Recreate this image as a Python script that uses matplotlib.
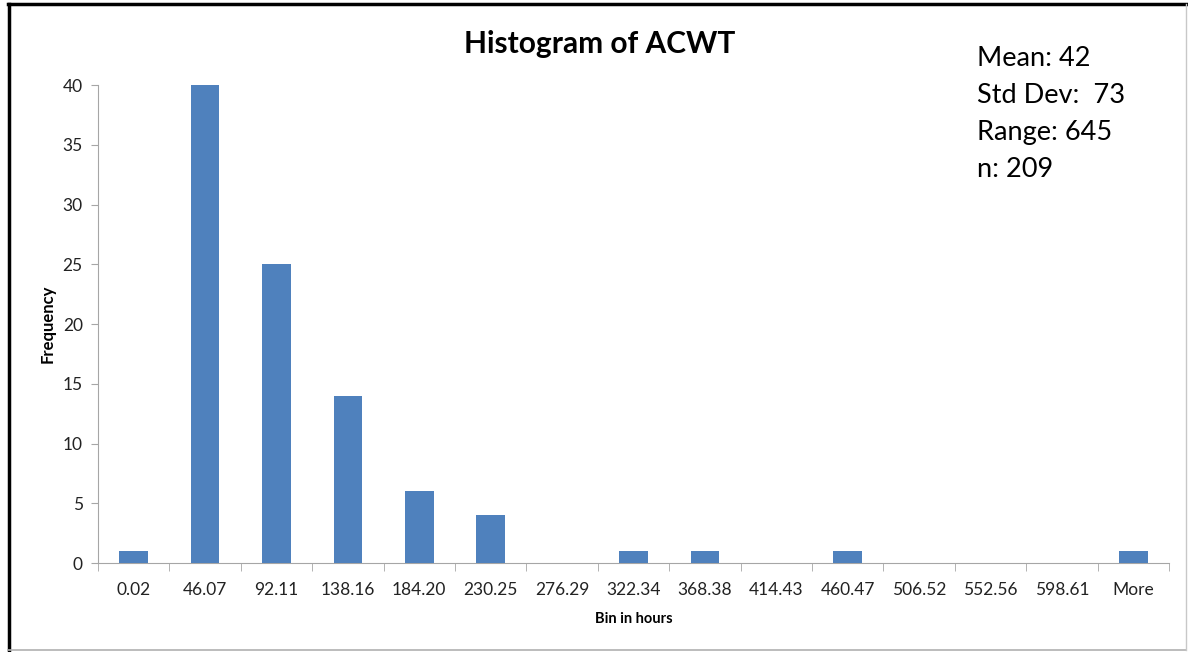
import numpy as np
import matplotlib
matplotlib.use("Agg")
import matplotlib.pyplot as plt
from matplotlib.lines import Line2D

plt.rcParams['font.family'] = ['Lato', 'DejaVu Sans']

bins = ['0.02', '46.07', '92.11', '138.16', '184.20', '230.25', '276.29',
        '322.34', '368.38', '414.43', '460.47', '506.52', '552.56', '598.61', 'More']
freq = [1, 40, 25, 14, 6, 4, 0, 1, 1, 0, 1, 0, 0, 0, 1]
stats = ['Mean: 42', 'Std Dev:  73', 'Range: 645', 'n: 209']

fig = plt.figure(figsize=(11.88, 6.52), dpi=100)
ax = fig.add_axes([0.0825, 0.1365, 0.9015, 0.7331])

x = np.arange(len(bins))
ax.bar(x, freq, width=0.4, color='#4F81BD', linewidth=0, zorder=3)

ax.set_xlim(-0.5, len(bins) - 0.5)
ax.set_ylim(0, 40)
ax.set_yticks(range(0, 41, 5))
ax.set_xticks(x)
ax.set_xticklabels(bins, fontsize=12.5, color='#222222')
ax.tick_params(axis='x', length=0, pad=14)
ax.set_xticks(np.arange(-0.5, len(bins)), minor=True)
ax.tick_params(axis='x', which='minor', length=6, color='#a6a6a6', direction='out')
ax.tick_params(axis='y', length=5, color='#a6a6a6', labelsize=12.5, labelcolor='#222222', pad=6)

for s in ['top', 'right']:
    ax.spines[s].set_visible(False)
for s in ['left', 'bottom']:
    ax.spines[s].set_color('#a6a6a6')

ax.set_ylabel('Frequency', fontsize=12, fontweight='bold', labelpad=5)
ax.set_xlabel('Bin in hours', fontsize=10.5, fontweight='bold', labelpad=10)

fig.text(0.505, 0.932, 'Histogram of ACWT', ha='center', va='center',
         fontsize=21.5, fontweight='bold')
fig.text(0.822, 0.929, '\n'.join(stats), ha='left', va='top',
         fontsize=19.5, linespacing=1.6)

# frame around the picture
fig.add_artist(Line2D([0.007, 0.998], [0.994, 0.994], color='black', lw=2.5, transform=fig.transFigure))
fig.add_artist(Line2D([0.0075, 0.0075], [0.003, 0.994], color='black', lw=2.5, transform=fig.transFigure))
fig.add_artist(Line2D([0.007, 0.998], [0.003, 0.003], color='#b0b0b0', lw=1.2, transform=fig.transFigure))
fig.add_artist(Line2D([0.998, 0.998], [0.003, 0.994], color='#c8c8c8', lw=1.0, transform=fig.transFigure))

fig.savefig('out.png', dpi=100)
